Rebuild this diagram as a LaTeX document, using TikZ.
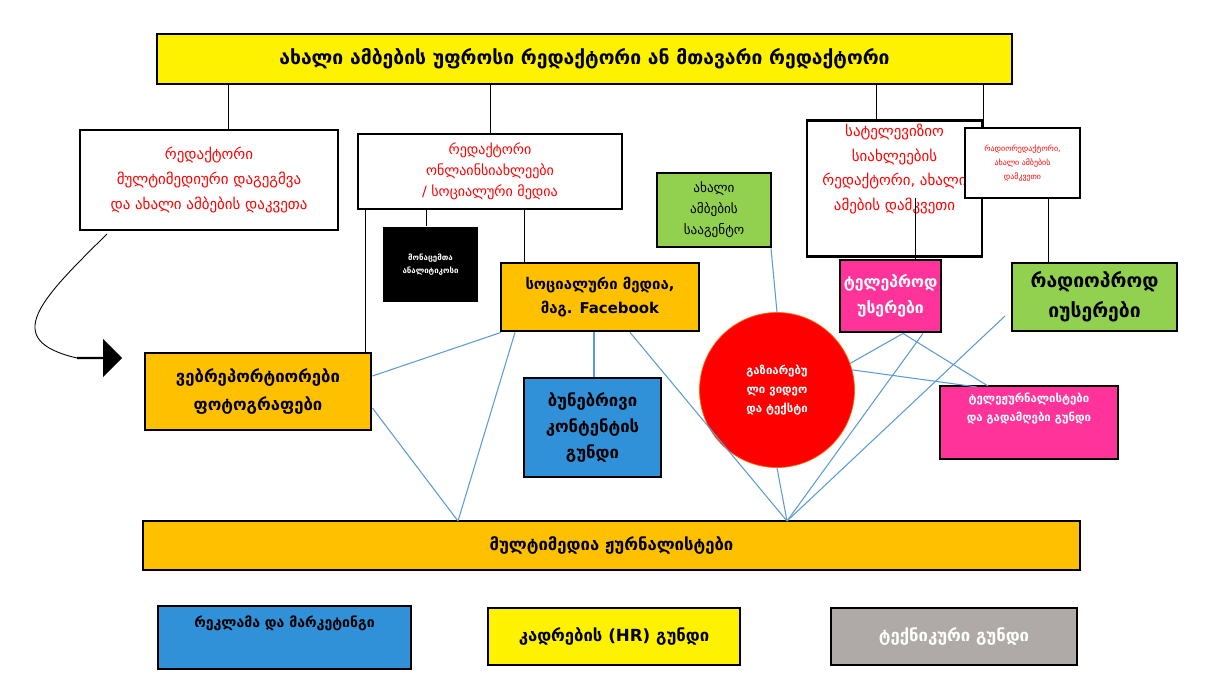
\documentclass[tikz,border=0pt]{standalone}
\usepackage{fontspec}
\setmainfont{DejaVu Sans}
\usetikzlibrary{arrows.meta,shapes.arrows}
\definecolor{gold}{RGB}{255,192,0}
\definecolor{lime}{RGB}{146,208,80}
\definecolor{hotpink}{RGB}{255,51,153}
\definecolor{skyblue}{RGB}{48,144,216}
\definecolor{greybox}{RGB}{175,170,168}
\definecolor{linkblue}{RGB}{91,155,213}
\tikzset{
    box/.style={draw=black, line width=1.6pt, align=center, inner sep=2pt},
    redtext/.style={box, fill=white, text=red},
    link/.style={draw=black, line width=0.5pt},
    bluelink/.style={draw=linkblue, line width=0.6pt}
}
% box from corner (x1,y1) to (x2,y2), in pixels
\newcommand{\bx}[7]{%
  \node[#6, minimum width={(#4-#2)*0.02cm}, minimum height={(#5-#3)*0.02cm}]
    (#1) at ({(#2+#4)/2},{(#3+#5)/2}) {#7};}

\begin{document}
\begin{tikzpicture}[x=0.02cm,y=-0.02cm]
\useasboundingbox (0,0) rectangle (1212,698);

\bx{chief}{157}{34}{1012}{84}{box,fill=yellow,font=\fontsize{11}{13}\bfseries}{ახალი ამბების უფროსი რედაქტორი ან მთავარი რედაქტორი}
\bx{plan}{80}{130}{338}{230}{redtext,font=\fontsize{8.5}{14}\selectfont}{რედაქტორი\\მულტიმედიური დაგეგმვა\\და ახალი ამბების დაკვეთა}
\bx{online}{358}{134}{622}{209}{redtext,font=\fontsize{8}{12}\selectfont}{რედაქტორი\\ონლაინსიახლეები\\/ სოციალური მედია}
\bx{data}{383}{227}{478}{302}{box,draw=none,fill=black,text=white,font=\fontsize{4.5}{7}\bfseries}{მონაცემთა\\ანალიტიკოსი}
\bx{agency}{657}{173}{771}{247}{box,fill=lime,font=\fontsize{7.5}{12}\selectfont}{ახალი\\ამბების\\სააგენტო}
\bx{tved}{807}{128}{982}{249}{redtext,font=\fontsize{8.5}{14}\selectfont}{სატელევიზიო\\სიახლეების\\რედაქტორი, ახალი\\ამების დამკვეთი\\[10pt]}
\bx{radioed}{965}{128}{1080}{198}{redtext,font=\fontsize{4.5}{8}\selectfont}{რადიორედაქტორი,\\ახალი ამბების\\დამკვეთი}
\bx{social}{501}{263}{699}{331}{box,fill=gold,font=\fontsize{8.5}{14}\bfseries}{სოციალური მედია,\\მაგ. Facebook}
\bx{tvprod}{840}{260}{941}{332}{box,fill=hotpink,text=white,font=\fontsize{9}{15}\bfseries}{ტელეპროდ\\უსერები}
\bx{radio}{1012}{263}{1177}{331}{box,fill=lime,font=\fontsize{11}{17}\bfseries}{რადიოპროდ\\იუსერები}
\bx{web}{145}{353}{371}{430}{box,fill=gold,font=\fontsize{9.5}{16}\bfseries}{ვებრეპორტიორები\\ფოტოგრაფები}
\bx{native}{524}{378}{661}{477}{box,fill=skyblue,font=\fontsize{9.5}{15}\bfseries}{ბუნებრივი\\კონტენტის\\გუნდი}
\node[circle, fill=red, draw=orange!80!red, minimum size=155*0.02cm, text=white,
      align=center, font=\fontsize{6.5}{11}\bfseries] (shared) at (777,390)
      {გაზიარებუ\\ლი ვიდეო\\და ტექსტი};
\bx{tvjour}{940}{386}{1118}{459}{box,fill=hotpink,text=white,font=\fontsize{6.5}{11}\bfseries}{ტელეჟურნალისტები\\და გადამღები გუნდი\\[6pt]}
\bx{mmj}{143}{521}{1080}{570}{box,fill=gold,font=\fontsize{9.5}{12}\bfseries}{მულტიმედია ჟურნალისტები}
\bx{ads}{158}{606}{411}{669}{box,fill=skyblue,font=\fontsize{8}{10}\bfseries}{რეკლამა და მარკეტინგი\\[8pt]}
\bx{hr}{488}{608}{740}{665}{box,fill=yellow,font=\fontsize{9.5}{12}\bfseries}{კადრების (HR) გუნდი}
\bx{tech}{831}{608}{1077}{665}{box,fill=greybox,text=white,font=\fontsize{9.5}{12}\bfseries}{ტექნიკური გუნდი}

% hierarchy
\draw[link] (chief.south -| 228,0) -- (plan.north -| 228,0);
\draw[link] (chief.south -| 490,0) -- (online.north -| 490,0);
\draw[link] (chief.south -| 876,0) -- (tved.north -| 876,0);
\draw[link] (chief.south -| 983,0) -- (radioed.north -| 983,0);
\draw[link] (online.south -| 426,0) -- (data.north -| 426,0);
\draw[link] (online.south -| 524,0) -- (social.north -| 524,0);
\draw[link] (online.south -| 365,0) -- (web.north -| 365,0);
\draw[link] (915,198) -- (tvprod.north -| 915,0);
\draw[link] (radioed.south -| 1048,0) -- (radio.north -| 1048,0);

% arrow from planning
\coordinate (curvestart) at (107,234);
\coordinate (arrowtip) at (77,358);
\draw[link] (curvestart) .. controls (40,300) and (0,340) .. (arrowtip);
\node[single arrow, fill=black, minimum height=45*0.02cm, minimum width=38*0.02cm,
      single arrow head extend=3pt, inner sep=0pt] (bigarrow) at (99,358) {};

% blue links
\coordinate (leftjoin) at (458,521);
\coordinate (rightjoin) at (787,521);
\draw[bluelink] (web.east |- 0,376) -- (social.south west -| 501,331);
\draw[bluelink] (web.east |- 0,408) -- (leftjoin);
\draw[bluelink] (social.south -| 515,0) -- (leftjoin);
\draw[bluelink] (social.south -| 594,0) -- (native.north -| 594,0);
\draw[bluelink] (social.south -| 630,0) -- (rightjoin);
\draw[bluelink] (agency.south -| 771,0) -- (shared.north);
\draw[bluelink] (shared.south) -- (rightjoin);
\draw[bluelink] (tvprod.south -| 903,0) -- (shared.20);
\draw[bluelink] (tvprod.south -| 903,0) -- (988,386);
\draw[bluelink] (tvprod.south -| 923,0) -- (rightjoin);
\draw[bluelink] (shared.15) -- (977,387);
\draw[bluelink] (1005,316) -- (rightjoin);
\end{tikzpicture}
\end{document}
